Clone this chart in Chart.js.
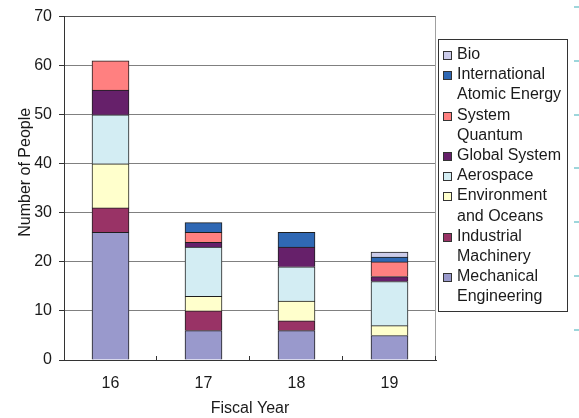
<!DOCTYPE html>
<html>
<head>
<meta charset="utf-8">
<script src="https://cdn.jsdelivr.net/npm/chart.js@4.4.1/dist/chart.umd.min.js"></script>
<style>
  html, body { margin: 0; padding: 0; background: #ffffff; }
  #wrap { width: 579px; height: 418px; position: relative; }
  canvas { display: block; }
</style>
</head>
<body>
<div id="wrap"><canvas id="chart" width="579" height="418"></canvas></div>
<script>
// Staff counts by department, stacked per fiscal year (bottom segment first)
const fiscalYears = ['16', '17', '18', '19'];
const mechanicalEngineering     = [26, 6, 6, 5];
const industrialMachinery       = [5, 4, 2, 0];
const environmentAndOceans      = [9, 3, 4, 2];
const aerospace                 = [10, 10, 7, 9];
const globalSystem              = [5, 1, 4, 1];
const systemQuantum             = [6, 2, 0, 3];
const internationalAtomicEnergy = [0, 2, 3, 1];
const bio                       = [0, 0, 0, 1];

const yMin = 0, yMax = 70, yStep = 10;

const FONT = '"Liberation Sans", Arial, sans-serif';
const TEXT = '#1a1a1a';

// name lines (as wrapped in the legend), values, fill colour
const series = [
  { lines: ['Mechanical', 'Engineering'],      data: mechanicalEngineering,     color: '#9999cc' },
  { lines: ['Industrial', 'Machinery'],        data: industrialMachinery,       color: '#993366' },
  { lines: ['Environment', 'and Oceans'],      data: environmentAndOceans,      color: '#ffffcc' },
  { lines: ['Aerospace'],                      data: aerospace,                 color: '#d3edf3' },
  { lines: ['Global System'],                  data: globalSystem,              color: '#66206a' },
  { lines: ['System', 'Quantum'],              data: systemQuantum,             color: '#ff8080' },
  { lines: ['International', 'Atomic Energy'], data: internationalAtomicEnergy, color: '#2f68b4' },
  { lines: ['Bio'],                            data: bio,                       color: '#ccccea' }
];

const datasets = series.map(s => ({
  label: s.lines.join(' '),
  legendLines: s.lines,
  data: s.data,
  backgroundColor: s.color,
  borderColor: '#1e1e1e',
  // one outline per segment: the top edge doubles as the divider above the segment below
  borderWidth: { top: 1, left: 1, right: 1, bottom: 0 },
  borderSkipped: false,
  categoryPercentage: 1.0,
  barThickness: 37
}));

// Frame pieces, the y-axis title, the boxed legend and the edge dashes
const decorations = {
  id: 'decorations',
  afterDraw(chart) {
    const { ctx, chartArea: a, scales: { x } } = chart;
    ctx.save();

    // right border of the plot area
    ctx.strokeStyle = '#a0a0a0';
    ctx.lineWidth = 1;
    ctx.beginPath();
    ctx.moveTo(Math.round(a.right) - 0.5, a.top);
    ctx.lineTo(Math.round(a.right) - 0.5, a.bottom);
    ctx.stroke();

    // short inward ticks between categories on the x axis
    ctx.strokeStyle = '#333333';
    const n = fiscalYears.length;
    const step = (a.right - a.left) / n;
    for (let i = 1; i <= n; i++) {
      const px = Math.round(x.getPixelForTick(i - 1) + step / 2) - 0.5;
      ctx.beginPath();
      ctx.moveTo(px, a.bottom);
      ctx.lineTo(px, a.bottom - 4);
      ctx.stroke();
    }

    // y-axis title
    ctx.fillStyle = TEXT;
    ctx.font = '16px ' + FONT;
    ctx.textAlign = 'center';
    ctx.textBaseline = 'middle';
    ctx.save();
    ctx.translate(26, (a.top + a.bottom) / 2 - 16);
    ctx.rotate(-Math.PI / 2);
    ctx.fillText('Number of People', 0, 0);
    ctx.restore();

    // legend: top entry is the top of the stack
    const boxL = a.right + 2, boxT = 39, boxR = 568, boxB = 312;
    ctx.fillStyle = '#ffffff';
    ctx.fillRect(boxL, boxT, boxR - boxL, boxB - boxT);
    ctx.strokeStyle = '#333333';
    ctx.lineWidth = 1;
    ctx.strokeRect(boxL + 0.5, boxT + 0.5, boxR - boxL - 1, boxB - boxT - 1);

    const lineH = 20.2;
    let ly = boxT + 16;
    ctx.textAlign = 'left';
    ctx.textBaseline = 'middle';
    ctx.font = '16px ' + FONT;
    const ds = chart.data.datasets;
    for (let i = ds.length - 1; i >= 0; i--) {
      const d = ds[i];
      const sy = Math.round(ly);
      ctx.fillStyle = d.backgroundColor;
      ctx.fillRect(boxL + 5, sy - 4, 9, 9);
      ctx.strokeStyle = '#333333';
      ctx.strokeRect(boxL + 5.5, sy - 3.5, 8, 8);
      ctx.fillStyle = TEXT;
      d.legendLines.forEach((t, k) => ctx.fillText(t, boxL + 19, Math.round(ly + k * lineH)));
      ly += d.legendLines.length * lineH;
    }

    // faint tick dashes along the right edge of the figure
    ctx.strokeStyle = '#9dd6db';
    ctx.lineWidth = 2;
    for (let k = 0; k < 7; k++) {
      const dy = Math.round(7 + k * 53.8);
      ctx.beginPath();
      ctx.moveTo(574, dy);
      ctx.lineTo(579, dy);
      ctx.stroke();
    }
    ctx.restore();
  }
};

new Chart(document.getElementById('chart'), {
  type: 'bar',
  data: { labels: fiscalYears, datasets },
  options: {
    responsive: false,
    animation: false,
    devicePixelRatio: 1,
    layout: { padding: { top: 14, right: 143, left: 0, bottom: 0 } },
    plugins: { legend: { display: false }, tooltip: { enabled: false } },
    scales: {
      x: {
        stacked: true,
        grid: { display: false, drawTicks: false },
        border: { display: true, color: '#333333', width: 1 },
        ticks: { color: TEXT, font: { family: FONT, size: 16 }, padding: 14 },
        title: { display: true, text: 'Fiscal Year', color: TEXT, font: { family: FONT, size: 16 }, padding: { top: 0, bottom: 0 } },
        afterFit(scale) { scale.height = 58; }
      },
      y: {
        stacked: true,
        min: yMin,
        max: yMax,
        ticks: { stepSize: yStep, color: TEXT, font: { family: FONT, size: 16 }, padding: 7 },
        grid: {
          color: ctx => (ctx.tick && ctx.tick.value === yMax) ? '#555555' : '#808080',
          tickColor: '#333333',
          tickLength: 5,
          lineWidth: 1
        },
        border: { display: true, color: '#333333', width: 1 },
        afterFit(scale) { scale.width = 64; }
      }
    }
  },
  plugins: [decorations]
});
</script>
</body>
</html>
